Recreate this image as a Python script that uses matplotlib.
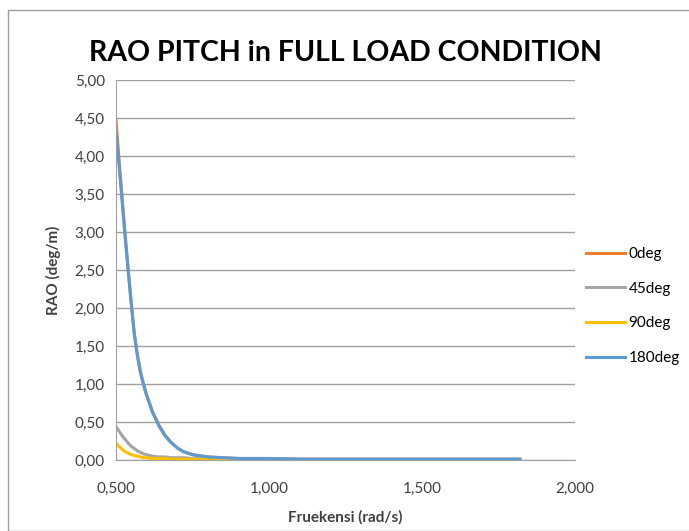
import numpy as np
import matplotlib.pyplot as plt
from matplotlib.patches import Rectangle
from matplotlib.ticker import FuncFormatter

plt.rcParams['font.family'] = ['Lato', 'DejaVu Sans']

# frequency (rad/s)
freq = [0.50, 0.51, 0.52, 0.53, 0.54, 0.55, 0.56, 0.57, 0.58, 0.59, 0.60,
        0.62, 0.64, 0.66, 0.68, 0.70, 0.72, 0.75, 0.80, 0.85, 0.90, 1.00,
        1.10, 1.20, 1.30, 1.40, 1.50, 1.60, 1.70, 1.82]

rao_0 = [4.47, 3.95, 3.45, 2.96, 2.50, 2.06, 1.66, 1.38, 1.16, 1.00, 0.86,
         0.63, 0.46, 0.33, 0.23, 0.16, 0.11, 0.07, 0.04, 0.03, 0.02, 0.02,
         0.01, 0.01, 0.01, 0.01, 0.01, 0.01, 0.01, 0.01]
rao_45 = [0.44, 0.38, 0.32, 0.27, 0.22, 0.18, 0.15, 0.12, 0.10, 0.08, 0.07,
          0.05, 0.04, 0.04, 0.03, 0.03, 0.03, 0.02, 0.02, 0.02, 0.02, 0.01,
          0.01, 0.01, 0.01, 0.01, 0.01, 0.01, 0.01, 0.01]
rao_90 = [0.22, 0.18, 0.14, 0.11, 0.09, 0.07, 0.06, 0.05, 0.04, 0.03, 0.03,
          0.02, 0.02, 0.02, 0.01, 0.01, 0.01, 0.01, 0.01, 0.01, 0.01, 0.01,
          0.00, 0.00, 0.00, 0.00, 0.00, 0.00, 0.00, 0.00]
rao_180 = [4.34, 3.88, 3.40, 2.93, 2.48, 2.05, 1.65, 1.37, 1.15, 0.99, 0.85,
           0.62, 0.45, 0.32, 0.23, 0.16, 0.11, 0.07, 0.04, 0.03, 0.02, 0.02,
           0.01, 0.01, 0.01, 0.01, 0.01, 0.01, 0.01, 0.01]

series = [("0deg", rao_0, "#ED7D31"), ("45deg", rao_45, "#A5A5A5"),
          ("90deg", rao_90, "#FFC000"), ("180deg", rao_180, "#5B9BD5")]

fig = plt.figure(figsize=(6.89, 5.31), dpi=100)
fig.patches.append(Rectangle((8 / 689, 0), 1, 1 - 10 / 531, transform=fig.transFigure,
                             fill=False, edgecolor="#a0a0a0", linewidth=1))
ax = fig.add_axes([116 / 689, 1 - 460 / 531, 459 / 689, 380 / 531])

for name, vals, col in series:
    ax.plot(freq, vals, color=col, linewidth=2.2, label=name)

ax.set_xlim(0.5, 2.0)
ax.set_ylim(0, 5)
ax.set_xticks([0.5, 1.0, 1.5, 2.0])
ax.set_yticks(np.arange(0, 5.01, 0.5))
ax.xaxis.set_major_formatter(FuncFormatter(lambda v, p: f"{v:.3f}".replace(".", ",")))
ax.yaxis.set_major_formatter(FuncFormatter(lambda v, p: f"{v:.2f}".replace(".", ",")))
ax.tick_params(length=0, labelsize=11, colors="#404040")
ax.tick_params(axis="x", pad=16)
ax.tick_params(axis="y", pad=8)
ax.grid(axis="y", color="#a0a0a0", linewidth=1)
ax.set_axisbelow(True)
for s in ["top", "right"]:
    ax.spines[s].set_visible(False)
for s in ["left", "bottom"]:
    ax.spines[s].set_color("#a0a0a0")

ax.set_title("RAO PITCH in FULL LOAD CONDITION", fontsize=20.5, fontweight="bold", pad=14)
ax.set_xlabel("Fruekensi (rad/s)", fontsize=11, fontweight="bold", color="#404040", labelpad=10)
ax.set_ylabel("RAO (deg/m)", fontsize=11, fontweight="bold", color="#404040", labelpad=10)

ax.legend(loc="center left", bbox_to_anchor=(1.0, 0.405), frameon=False, fontsize=11,
          handlelength=2.6, handletextpad=0.2, labelspacing=1.35, borderaxespad=0.3)

fig.savefig("out.png", dpi=100)
